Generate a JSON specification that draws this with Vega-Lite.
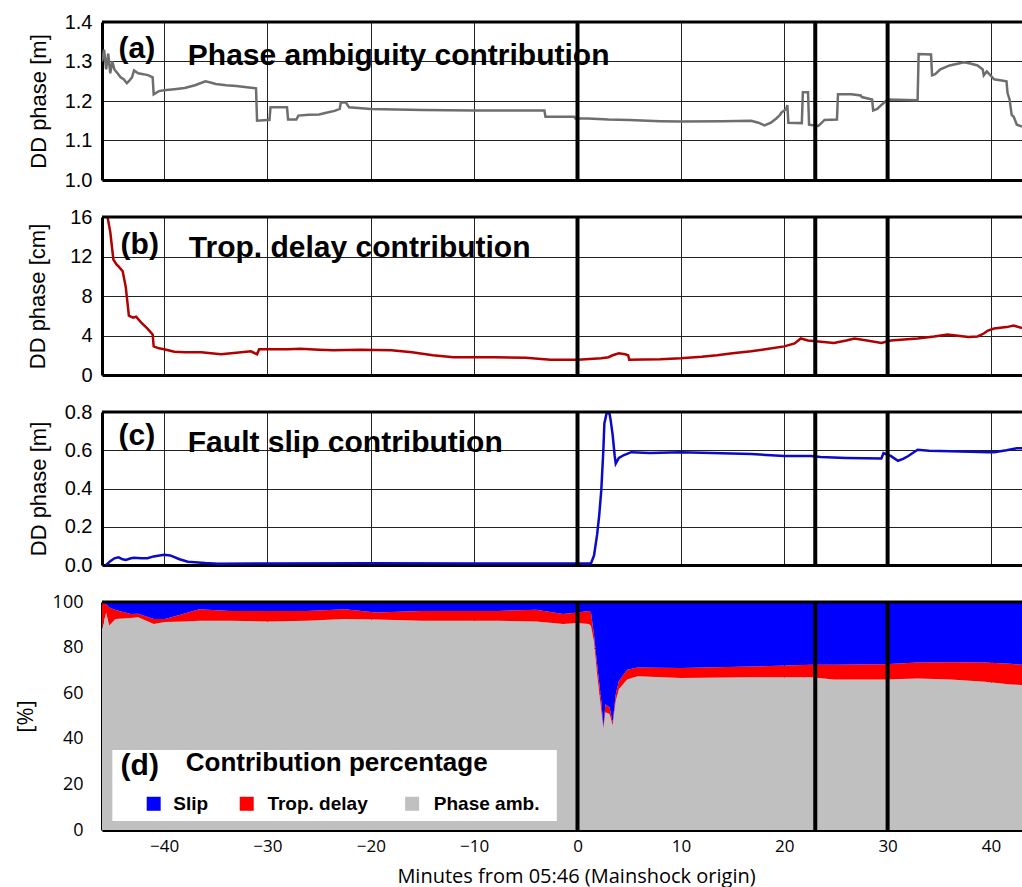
{
  "$schema": "https://vega.github.io/schema/vega-lite/v6.json",
  "padding": {"left": 14, "top": 12, "right": 0, "bottom": 6},
  "background": "white",
  "config": {
    "view": {"stroke": null},
    "axis": {"grid": true, "gridColor": "#222222", "gridWidth": 1, "ticks": false, "domain": true, "domainColor": "#000000", "domainWidth": 3, "labelColor": "#000000", "titleColor": "#000000", "zindex": 1, "titleFontWeight": "normal", "labelFont": "Liberation Sans", "titleFont": "Liberation Sans", "labelFontSize": 20, "titleFontSize": 22, "labelPadding": 10, "labelOverlap": false, "tickCount": 30}
  },
  "resolve": {"scale": {"x": "independent", "y": "independent"}},
  "datasets": {
    "amb": [
      {"t": -46.0, "v": 1.30}, {"t": -45.8, "v": 1.33}, {"t": -45.6, "v": 1.28}, {"t": -45.4, "v": 1.32}, {"t": -45.2, "v": 1.27}, {"t": -45.0, "v": 1.30}, {"t": -44.8, "v": 1.28}, {"t": -44.5, "v": 1.27}, {"t": -44.2, "v": 1.26}, {"t": -43.9, "v": 1.255}, {"t": -43.6, "v": 1.245}, {"t": -43.4, "v": 1.25}, {"t": -43.1, "v": 1.26}, {"t": -42.9, "v": 1.277}, {"t": -42.5, "v": 1.27}, {"t": -42.0, "v": 1.268}, {"t": -41.5, "v": 1.265}, {"t": -41.1, "v": 1.26}, {"t": -41.0, "v": 1.217}, {"t": -40.5, "v": 1.225}, {"t": -40.0, "v": 1.227}, {"t": -39.0, "v": 1.23}, {"t": -38.0, "v": 1.233}, {"t": -37.0, "v": 1.24}, {"t": -36.0, "v": 1.25}, {"t": -35.5, "v": 1.247}, {"t": -35.0, "v": 1.243}, {"t": -34.0, "v": 1.24}, {"t": -33.0, "v": 1.238}, {"t": -32.0, "v": 1.235}, {"t": -31.1, "v": 1.232}, {"t": -31.0, "v": 1.15}, {"t": -30.0, "v": 1.152}, {"t": -29.8, "v": 1.152}, {"t": -29.7, "v": 1.184}, {"t": -28.1, "v": 1.184}, {"t": -28.0, "v": 1.153}, {"t": -27.2, "v": 1.153}, {"t": -27.0, "v": 1.163}, {"t": -26.0, "v": 1.165}, {"t": -25.0, "v": 1.166}, {"t": -24.0, "v": 1.172}, {"t": -23.5, "v": 1.175}, {"t": -23.0, "v": 1.18}, {"t": -22.9, "v": 1.196}, {"t": -22.4, "v": 1.196}, {"t": -22.1, "v": 1.184}, {"t": -20.0, "v": 1.18}, {"t": -15.0, "v": 1.177}, {"t": -10.0, "v": 1.176}, {"t": -5.0, "v": 1.176}, {"t": -3.2, "v": 1.176}, {"t": -3.1, "v": 1.16}, {"t": -1.0, "v": 1.16}, {"t": -0.3, "v": 1.16}, {"t": -0.2, "v": 1.156}, {"t": 1.0, "v": 1.156}, {"t": 3.0, "v": 1.153}, {"t": 5.0, "v": 1.152}, {"t": 8.0, "v": 1.149}, {"t": 10.0, "v": 1.148}, {"t": 14.0, "v": 1.149}, {"t": 16.8, "v": 1.15}, {"t": 17.5, "v": 1.145}, {"t": 18.1, "v": 1.138}, {"t": 18.7, "v": 1.145}, {"t": 19.2, "v": 1.155}, {"t": 19.6, "v": 1.165}, {"t": 19.7, "v": 1.17}, {"t": 20.2, "v": 1.18}, {"t": 20.3, "v": 1.19}, {"t": 20.4, "v": 1.145}, {"t": 21.7, "v": 1.144}, {"t": 21.8, "v": 1.222}, {"t": 22.3, "v": 1.222}, {"t": 22.4, "v": 1.14}, {"t": 23.3, "v": 1.137}, {"t": 23.9, "v": 1.152}, {"t": 25.1, "v": 1.153}, {"t": 25.2, "v": 1.217}, {"t": 26.5, "v": 1.217}, {"t": 27.4, "v": 1.214}, {"t": 27.5, "v": 1.21}, {"t": 28.5, "v": 1.204}, {"t": 28.6, "v": 1.176}, {"t": 29.0, "v": 1.18}, {"t": 29.4, "v": 1.19}, {"t": 30.0, "v": 1.204}, {"t": 31.0, "v": 1.203}, {"t": 32.9, "v": 1.202}, {"t": 33.0, "v": 1.319}, {"t": 34.2, "v": 1.318}, {"t": 34.3, "v": 1.265}, {"t": 34.6, "v": 1.268}, {"t": 35.1, "v": 1.28}, {"t": 36.0, "v": 1.29}, {"t": 37.4, "v": 1.298}, {"t": 38.0, "v": 1.295}, {"t": 38.7, "v": 1.29}, {"t": 39.2, "v": 1.28}, {"t": 39.3, "v": 1.265}, {"t": 39.6, "v": 1.275}, {"t": 40.3, "v": 1.255}, {"t": 41.5, "v": 1.25}, {"t": 41.6, "v": 1.22}, {"t": 41.8, "v": 1.204}, {"t": 42.0, "v": 1.165}, {"t": 42.2, "v": 1.16}, {"t": 42.5, "v": 1.14}, {"t": 43.0, "v": 1.135}
    ],
    "trop": [
      {"t": -45.5, "v": 16.2}, {"t": -45.2, "v": 14.5}, {"t": -44.9, "v": 11.7}, {"t": -44.6, "v": 11.2}, {"t": -44.4, "v": 11.0}, {"t": -44.0, "v": 10.5}, {"t": -43.7, "v": 8.9}, {"t": -43.4, "v": 6.0}, {"t": -43.0, "v": 5.8}, {"t": -42.7, "v": 5.9}, {"t": -42.2, "v": 5.3}, {"t": -41.6, "v": 4.7}, {"t": -41.1, "v": 4.1}, {"t": -41.0, "v": 2.9}, {"t": -40.5, "v": 2.7}, {"t": -40.0, "v": 2.6}, {"t": -39.0, "v": 2.35}, {"t": -38.0, "v": 2.3}, {"t": -36.4, "v": 2.3}, {"t": -34.5, "v": 2.1}, {"t": -33.0, "v": 2.25}, {"t": -31.6, "v": 2.4}, {"t": -31.0, "v": 2.1}, {"t": -30.8, "v": 2.6}, {"t": -28.0, "v": 2.6}, {"t": -26.8, "v": 2.65}, {"t": -25.0, "v": 2.55}, {"t": -23.6, "v": 2.5}, {"t": -21.0, "v": 2.55}, {"t": -18.0, "v": 2.5}, {"t": -16.0, "v": 2.3}, {"t": -14.0, "v": 2.0}, {"t": -12.0, "v": 1.8}, {"t": -8.0, "v": 1.8}, {"t": -5.0, "v": 1.75}, {"t": -2.6, "v": 1.55}, {"t": 0.0, "v": 1.55}, {"t": 2.3, "v": 1.7}, {"t": 3.0, "v": 1.8}, {"t": 3.4, "v": 2.0}, {"t": 4.0, "v": 2.2}, {"t": 4.6, "v": 2.1}, {"t": 4.9, "v": 2.0}, {"t": 5.0, "v": 1.55}, {"t": 8.0, "v": 1.6}, {"t": 10.0, "v": 1.7}, {"t": 12.0, "v": 1.85}, {"t": 13.5, "v": 2.0}, {"t": 15.0, "v": 2.2}, {"t": 16.8, "v": 2.4}, {"t": 18.5, "v": 2.65}, {"t": 20.0, "v": 2.9}, {"t": 21.0, "v": 3.2}, {"t": 21.6, "v": 3.7}, {"t": 22.3, "v": 3.5}, {"t": 23.3, "v": 3.4}, {"t": 24.8, "v": 3.25}, {"t": 26.0, "v": 3.5}, {"t": 26.8, "v": 3.7}, {"t": 28.0, "v": 3.5}, {"t": 29.4, "v": 3.25}, {"t": 30.3, "v": 3.5}, {"t": 32.9, "v": 3.7}, {"t": 34.5, "v": 3.9}, {"t": 35.8, "v": 4.1}, {"t": 37.0, "v": 3.95}, {"t": 37.8, "v": 3.85}, {"t": 38.7, "v": 3.9}, {"t": 39.3, "v": 4.2}, {"t": 39.7, "v": 4.5}, {"t": 40.3, "v": 4.7}, {"t": 41.5, "v": 4.85}, {"t": 42.2, "v": 5.0}, {"t": 43.0, "v": 4.75}
    ],
    "slip": [
      {"t": -45.6, "v": 0.0}, {"t": -45.2, "v": 0.02}, {"t": -44.8, "v": 0.035}, {"t": -44.4, "v": 0.04}, {"t": -44.0, "v": 0.03}, {"t": -43.7, "v": 0.026}, {"t": -43.2, "v": 0.035}, {"t": -42.9, "v": 0.038}, {"t": -42.2, "v": 0.035}, {"t": -41.6, "v": 0.035}, {"t": -41.0, "v": 0.045}, {"t": -40.0, "v": 0.053}, {"t": -39.4, "v": 0.05}, {"t": -38.5, "v": 0.03}, {"t": -37.7, "v": 0.017}, {"t": -36.0, "v": 0.01}, {"t": -34.8, "v": 0.007}, {"t": -30.0, "v": 0.008}, {"t": -20.0, "v": 0.009}, {"t": -10.0, "v": 0.008}, {"t": 0.0, "v": 0.008}, {"t": 1.3, "v": 0.008}, {"t": 1.6, "v": 0.05}, {"t": 1.9, "v": 0.16}, {"t": 2.1, "v": 0.26}, {"t": 2.3, "v": 0.39}, {"t": 2.5, "v": 0.6}, {"t": 2.6, "v": 0.74}, {"t": 2.8, "v": 0.79}, {"t": 2.9, "v": 0.8}, {"t": 3.1, "v": 0.79}, {"t": 3.2, "v": 0.76}, {"t": 3.4, "v": 0.68}, {"t": 3.6, "v": 0.57}, {"t": 3.7, "v": 0.53}, {"t": 4.0, "v": 0.56}, {"t": 4.5, "v": 0.575}, {"t": 5.2, "v": 0.59}, {"t": 7.0, "v": 0.585}, {"t": 10.0, "v": 0.59}, {"t": 13.0, "v": 0.585}, {"t": 16.8, "v": 0.58}, {"t": 20.0, "v": 0.57}, {"t": 22.6, "v": 0.57}, {"t": 23.5, "v": 0.565}, {"t": 26.0, "v": 0.56}, {"t": 29.4, "v": 0.557}, {"t": 29.6, "v": 0.585}, {"t": 30.3, "v": 0.57}, {"t": 31.0, "v": 0.545}, {"t": 31.5, "v": 0.555}, {"t": 32.0, "v": 0.57}, {"t": 32.9, "v": 0.603}, {"t": 34.0, "v": 0.598}, {"t": 36.1, "v": 0.595}, {"t": 38.0, "v": 0.592}, {"t": 39.7, "v": 0.59}, {"t": 40.3, "v": 0.59}, {"t": 41.5, "v": 0.6}, {"t": 42.5, "v": 0.61}, {"t": 43.0, "v": 0.61}
    ],
    "pct": [
      {"t": -46.0, "amb": 88.2, "delay": 11.5, "slip": 0.3},
      {"t": -45.6, "amb": 95.4, "delay": 3.6, "slip": 1.0},
      {"t": -45.3, "amb": 89.7, "delay": 7.9, "slip": 2.4},
      {"t": -44.7, "amb": 92.5, "delay": 4.0, "slip": 3.5},
      {"t": -43.2, "amb": 93.0, "delay": 1.7, "slip": 5.3},
      {"t": -42.5, "amb": 93.3, "delay": 1.5, "slip": 5.2},
      {"t": -41.0, "amb": 90.4, "delay": 2.1, "slip": 7.5},
      {"t": -39.9, "amb": 91.2, "delay": 1.3, "slip": 7.5},
      {"t": -38.0, "amb": 91.5, "delay": 3.5, "slip": 5.0},
      {"t": -36.6, "amb": 91.8, "delay": 5.0, "slip": 3.2},
      {"t": -33.6, "amb": 91.8, "delay": 4.3, "slip": 3.9},
      {"t": -29.9, "amb": 91.4, "delay": 4.7, "slip": 3.9},
      {"t": -26.2, "amb": 91.8, "delay": 4.3, "slip": 3.9},
      {"t": -22.5, "amb": 92.5, "delay": 4.3, "slip": 3.2},
      {"t": -19.5, "amb": 92.3, "delay": 3.1, "slip": 4.6},
      {"t": -15.1, "amb": 91.8, "delay": 4.3, "slip": 3.9},
      {"t": -11.4, "amb": 91.8, "delay": 4.3, "slip": 3.9},
      {"t": -7.7, "amb": 91.8, "delay": 4.3, "slip": 3.9},
      {"t": -4.0, "amb": 91.4, "delay": 5.2, "slip": 3.4},
      {"t": -1.4, "amb": 90.4, "delay": 4.3, "slip": 5.3},
      {"t": 0.0, "amb": 90.8, "delay": 4.6, "slip": 4.6},
      {"t": 1.1, "amb": 90.4, "delay": 5.7, "slip": 3.9},
      {"t": 1.3, "amb": 89.5, "delay": 6.0, "slip": 4.5},
      {"t": 1.6, "amb": 82.5, "delay": 2.9, "slip": 14.6},
      {"t": 1.9, "amb": 68.1, "delay": 4.4, "slip": 27.5},
      {"t": 2.3, "amb": 52.4, "delay": 4.3, "slip": 43.3},
      {"t": 2.5, "amb": 44.5, "delay": 0.7, "slip": 54.8},
      {"t": 2.7, "amb": 51.6, "delay": 3.6, "slip": 44.8},
      {"t": 3.1, "amb": 50.9, "delay": 2.9, "slip": 46.2},
      {"t": 3.4, "amb": 45.9, "delay": 1.4, "slip": 52.7},
      {"t": 3.7, "amb": 56.7, "delay": 2.8, "slip": 40.5},
      {"t": 4.0, "amb": 61.7, "delay": 3.6, "slip": 34.7},
      {"t": 4.8, "amb": 66.0, "delay": 4.3, "slip": 29.7},
      {"t": 5.8, "amb": 67.4, "delay": 3.9, "slip": 28.7},
      {"t": 10.0, "amb": 66.7, "delay": 4.3, "slip": 29.0},
      {"t": 16.8, "amb": 67.0, "delay": 4.7, "slip": 28.3},
      {"t": 22.6, "amb": 67.0, "delay": 5.5, "slip": 27.5},
      {"t": 24.8, "amb": 66.0, "delay": 6.5, "slip": 27.5},
      {"t": 29.7, "amb": 66.0, "delay": 6.7, "slip": 27.3},
      {"t": 32.9, "amb": 66.4, "delay": 7.1, "slip": 26.5},
      {"t": 36.1, "amb": 66.0, "delay": 7.6, "slip": 26.4},
      {"t": 39.4, "amb": 65.0, "delay": 8.5, "slip": 26.5},
      {"t": 41.9, "amb": 63.8, "delay": 9.1, "slip": 27.1},
      {"t": 43.0, "amb": 63.6, "delay": 8.9, "slip": 27.5}
    ],
    "events": [{"t": 0}, {"t": 23}, {"t": 30}]
  },
  "bounds": "flush",
  "spacing": 37,
  "vconcat": [
    {
      "width": 920, "height": 158,
      "layer": [
        {
          "data": {"name": "amb"},
          "mark": {"type": "line", "color": "#6e6e6e", "strokeWidth": 2.5, "clip": true},
          "encoding": {
            "x": {"field": "t", "type": "quantitative", "scale": {"domain": [-46, 43], "nice": false, "zero": false}, "axis": {"values": [-40, -30, -20, -10, 0, 10, 20, 30, 40], "tickCount": 30, "labels": false, "title": null}},
            "y": {"field": "v", "type": "quantitative", "scale": {"domain": [1.0, 1.4], "nice": false, "zero": false}, "axis": {"values": [1.0, 1.1, 1.2, 1.3, 1.4], "tickCount": 30, "format": ".1f", "title": "DD phase [m]", "titleFontSize": 22, "labelFontSize": 20, "titlePadding": 14}}
          }
        },
        {"data": {"name": "events"}, "mark": {"type": "rule", "color": "#000000", "strokeWidth": 4}, "encoding": {"x": {"field": "t", "type": "quantitative"}}},
        {"data": {"values": [{}]}, "mark": {"type": "rule", "color": "#000000", "strokeWidth": 3}, "encoding": {"y": {"datum": 1.4}}},
        {"data": {"values": [{}]}, "mark": {"type": "text", "text": "(a)", "font": "Liberation Sans", "fontWeight": "bold", "fontSize": 30, "align": "left", "baseline": "alphabetic"}, "encoding": {"x": {"datum": -44.4}, "y": {"datum": 1.31}}},
        {"data": {"values": [{}]}, "mark": {"type": "text", "text": "Phase ambiguity contribution", "font": "Liberation Sans", "fontWeight": "bold", "fontSize": 30, "align": "left", "baseline": "alphabetic"}, "encoding": {"x": {"datum": -37.7}, "y": {"datum": 1.291}}}
      ]
    },
    {
      "width": 920, "height": 158,
      "layer": [
        {
          "data": {"name": "trop"},
          "mark": {"type": "line", "color": "#b00000", "strokeWidth": 2.5, "clip": true},
          "encoding": {
            "x": {"field": "t", "type": "quantitative", "scale": {"domain": [-46, 43], "nice": false, "zero": false}, "axis": {"values": [-40, -30, -20, -10, 0, 10, 20, 30, 40], "tickCount": 30, "labels": false, "title": null}},
            "y": {"field": "v", "type": "quantitative", "scale": {"domain": [0, 16], "nice": false}, "axis": {"values": [0, 4, 8, 12, 16], "tickCount": 30, "format": "d", "title": "DD phase [cm]", "titleFontSize": 22, "labelFontSize": 20, "titlePadding": 20}}
          }
        },
        {"data": {"name": "events"}, "mark": {"type": "rule", "color": "#000000", "strokeWidth": 4}, "encoding": {"x": {"field": "t", "type": "quantitative"}}},
        {"data": {"values": [{}]}, "mark": {"type": "rule", "color": "#000000", "strokeWidth": 3}, "encoding": {"y": {"datum": 16}}},
        {"data": {"values": [{}]}, "mark": {"type": "text", "text": "(b)", "font": "Liberation Sans", "fontWeight": "bold", "fontSize": 30, "align": "left", "baseline": "alphabetic"}, "encoding": {"x": {"datum": -44.2}, "y": {"datum": 12.3}}},
        {"data": {"values": [{}]}, "mark": {"type": "text", "text": "Trop. delay contribution", "font": "Liberation Sans", "fontWeight": "bold", "fontSize": 30, "align": "left", "baseline": "alphabetic"}, "encoding": {"x": {"datum": -37.6}, "y": {"datum": 11.9}}}
      ]
    },
    {
      "width": 920, "height": 153,
      "layer": [
        {
          "data": {"name": "slip"},
          "mark": {"type": "line", "color": "#0a0ac8", "strokeWidth": 2.5, "clip": true},
          "encoding": {
            "x": {"field": "t", "type": "quantitative", "scale": {"domain": [-46, 43], "nice": false, "zero": false}, "axis": {"values": [-40, -30, -20, -10, 0, 10, 20, 30, 40], "tickCount": 30, "labels": false, "title": null}},
            "y": {"field": "v", "type": "quantitative", "scale": {"domain": [0, 0.8], "nice": false}, "axis": {"values": [0, 0.2, 0.4, 0.6, 0.8], "tickCount": 30, "format": ".1f", "title": "DD phase [m]", "titleFontSize": 22, "labelFontSize": 20, "titlePadding": 14}}
          }
        },
        {"data": {"name": "events"}, "mark": {"type": "rule", "color": "#000000", "strokeWidth": 4}, "encoding": {"x": {"field": "t", "type": "quantitative"}}},
        {"data": {"values": [{}]}, "mark": {"type": "rule", "color": "#000000", "strokeWidth": 3}, "encoding": {"y": {"datum": 0.8}}},
        {"data": {"values": [{}]}, "mark": {"type": "text", "text": "(c)", "font": "Liberation Sans", "fontWeight": "bold", "fontSize": 30, "align": "left", "baseline": "alphabetic"}, "encoding": {"x": {"datum": -44.4}, "y": {"datum": 0.629}}},
        {"data": {"values": [{}]}, "mark": {"type": "text", "text": "Fault slip contribution", "font": "Liberation Sans", "fontWeight": "bold", "fontSize": 30, "align": "left", "baseline": "alphabetic"}, "encoding": {"x": {"datum": -37.7}, "y": {"datum": 0.589}}}
      ]
    },
    {
      "width": 920, "height": 228,
      "layer": [
        {
          "data": {"name": "pct"},
          "transform": [{"fold": ["amb", "delay", "slip"], "as": ["comp", "pct"]}],
          "mark": {"type": "area", "clip": true},
          "encoding": {
            "x": {"field": "t", "type": "quantitative", "scale": {"domain": [-46, 43], "nice": false, "zero": false}, "axis": {"values": [-40, -30, -20, -10, 0, 10, 20, 30, 40], "tickCount": 30, "format": "d", "title": "Minutes from 05:46 (Mainshock origin)", "labelFont": "Open Sans", "labelFontSize": 17, "labelPadding": 8, "titleFont": "Open Sans", "titleFontSize": 20, "titlePadding": 12, "titleX": 474}},
            "y": {"field": "pct", "type": "quantitative", "stack": "zero", "scale": {"domain": [0, 100], "nice": false}, "axis": {"values": [0, 20, 40, 60, 80, 100], "tickCount": 30, "format": "d", "title": "[%]", "labelFont": "Open Sans", "labelFontSize": 18, "labelPadding": 19, "titleFont": "Open Sans", "titleFontSize": 22, "titlePadding": 15}},
            "color": {"field": "comp", "type": "nominal", "scale": {"domain": ["amb", "delay", "slip"], "range": ["#c0c0c0", "#ff0000", "#0000ff"]}, "legend": null},
            "order": {"field": "comp", "type": "ordinal", "sort": "ascending"}
          }
        },
        {"data": {"name": "events"}, "mark": {"type": "rule", "color": "#000000", "strokeWidth": 4}, "encoding": {"x": {"field": "t", "type": "quantitative"}}},
        {"data": {"values": [{}]}, "mark": {"type": "rule", "color": "#000000", "strokeWidth": 3}, "encoding": {"y": {"datum": 100}}},
        {"data": {"values": [{}]}, "mark": {"type": "rect", "color": "#ffffff"}, "encoding": {"x": {"datum": -45.0}, "x2": {"datum": -2.0}, "y": {"datum": 35.1}, "y2": {"datum": 4.0}}},
        {"data": {"values": [{}]}, "mark": {"type": "text", "text": "(d)", "font": "Liberation Sans", "fontWeight": "bold", "fontSize": 30, "align": "left", "baseline": "alphabetic"}, "encoding": {"x": {"datum": -44.2}, "y": {"datum": 24.2}}},
        {"data": {"values": [{}]}, "mark": {"type": "text", "text": "Contribution percentage", "font": "Liberation Sans", "fontWeight": "bold", "fontSize": 26, "align": "left", "baseline": "alphabetic"}, "encoding": {"x": {"datum": -37.9}, "y": {"datum": 26.0}}},
        {"data": {"values": [{}]}, "mark": {"type": "point", "shape": "square", "filled": true, "opacity": 1, "size": 196, "color": "#0000ff"}, "encoding": {"x": {"datum": -41.0}, "y": {"datum": 11.5}}},
        {"data": {"values": [{}]}, "mark": {"type": "point", "shape": "square", "filled": true, "opacity": 1, "size": 196, "color": "#ff0000"}, "encoding": {"x": {"datum": -32.0}, "y": {"datum": 11.5}}},
        {"data": {"values": [{}]}, "mark": {"type": "point", "shape": "square", "filled": true, "opacity": 1, "size": 196, "color": "#c0c0c0"}, "encoding": {"x": {"datum": -16.0}, "y": {"datum": 11.5}}},
        {"data": {"values": [{}]}, "mark": {"type": "text", "text": "Slip", "font": "Liberation Sans", "fontWeight": "bold", "fontSize": 19, "align": "left", "baseline": "alphabetic"}, "encoding": {"x": {"datum": -39.1}, "y": {"datum": 8.8}}},
        {"data": {"values": [{}]}, "mark": {"type": "text", "text": "Trop. delay", "font": "Liberation Sans", "fontWeight": "bold", "fontSize": 19, "align": "left", "baseline": "alphabetic"}, "encoding": {"x": {"datum": -30.0}, "y": {"datum": 8.8}}},
        {"data": {"values": [{}]}, "mark": {"type": "text", "text": "Phase amb.", "font": "Liberation Sans", "fontWeight": "bold", "fontSize": 19, "align": "left", "baseline": "alphabetic"}, "encoding": {"x": {"datum": -13.9}, "y": {"datum": 8.8}}}
      ]
    }
  ]
}
